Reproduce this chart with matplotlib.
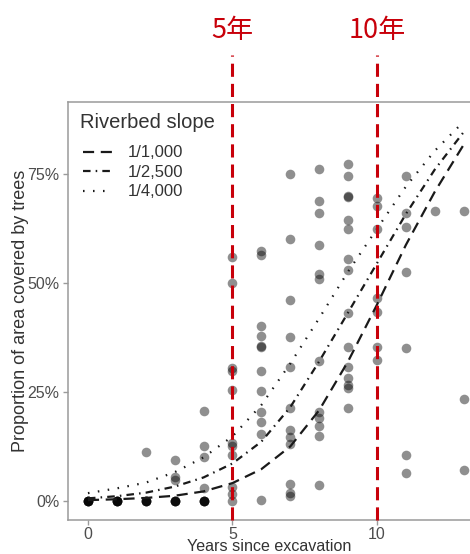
import matplotlib.pyplot as plt
from matplotlib.ticker import FuncFormatter

plt.rcParams['font.family'] = ['Liberation Sans', 'DejaVu Sans']

# observed tree cover (%) per site, grouped by years since excavation
years = list(range(14))
cover = [
    [0, 0, 0, 0, 0, 0],
    [0, 0, 0, 0, 0, 0],
    [0, 0, 0, 0, 0, 11.2],
    [0, 0, 0, 0, 0, 9.3, 5.6, 4.8],
    [0, 0, 0, 0, 0, 20.7, 12.7, 10.2, 3.0],
    [56, 50, 30.5, 29.8, 25.5, 13.4, 12.5, 10.5, 3.3, 1.5, 0],
    [57.4, 56.4, 40.1, 37.8, 35.6, 35.2, 29.8, 25.3, 20.5, 18.2, 15.4, 0.3],
    [74.9, 60.1, 46.1, 37.5, 30.7, 21.4, 16.2, 14.7, 13.1, 3.9, 1.8, 1.2],
    [76.1, 68.8, 66.1, 58.7, 52.0, 50.8, 32.2, 20.5, 19.0, 17.2, 14.8, 3.7],
    [77.2, 74.6, 70.0, 69.6, 64.4, 62.4, 55.4, 53.0, 43.2, 35.3, 30.7, 28.1,
     26.5, 26.0, 21.4],
    [69.5, 67.7, 62.3, 46.5, 43.3, 35.3, 32.3],
    [74.5, 66.1, 62.9, 52.6, 35.0, 10.5, 6.5],
    [66.4],
    [66.6, 23.3, 7.1],
]

# fitted curves (%), read at each year
fit_x = list(range(14))
fit_1000 = [0.2, 0.4, 0.7, 1.2, 2.2, 4.1, 7.3, 12.5, 20.8, 32.0, 45.0, 58.7, 70.9, 81.7]
fit_2500 = [0.6, 1.1, 1.9, 3.3, 5.4, 8.6, 13.6, 21.5, 32.0, 43.2, 54.5, 65.8, 76.0, 84.6]
fit_4000 = [1.8, 2.9, 4.2, 6.6, 10.0, 14.8, 22.0, 31.5, 41.9, 52.6, 62.4, 72.1, 80.3, 87.0]
slope_labels = ['1/1,000', '1/2,500', '1/4,000']

marks = [5, 10]
mark_labels = ['5年', '10年']

fig = plt.figure(figsize=(4.7, 5.54), dpi=100)
ax = fig.add_axes([68 / 470, 34 / 554, 1 - 68 / 470, 418 / 554])

xs, ys = [], []
for yr, vals in zip(years, cover):
    xs += [yr] * len(vals)
    ys += vals
ax.scatter(xs, ys, s=48, color='black', alpha=0.44, linewidths=0, zorder=2)

lc = '#1a1a1a'
ax.plot(fit_x, fit_1000, color=lc, lw=1.6, ls=(0, (5, 3)), label=slope_labels[0], zorder=3)
ax.plot(fit_x, fit_2500, color=lc, lw=1.6, ls=(0, (3.4, 2.3, 0.7, 2.3)), label=slope_labels[1], zorder=3)
ax.plot(fit_x, fit_4000, color=lc, lw=1.6, ls=(0, (0.7, 3.8)), label=slope_labels[2], zorder=3)

# red markers for 5 and 10 years
red = '#c8000a'
for m, lab in zip(marks, mark_labels):
    ax.plot([m, m], [0, 1.112], transform=ax.get_xaxis_transform(), clip_on=False,
            color=red, lw=2.2, ls=(0, (4.3, 2.3)), zorder=5)
    ax.text(m, 1.172, lab, transform=ax.get_xaxis_transform(), ha='center', va='center',
            color=red, fontsize=19.5, family=['Noto Sans CJK JP', 'DejaVu Sans'])

ax.set_xlim(-0.69, 13.22)
ax.set_ylim(-4.36, 91.5)
ax.set_xticks([0, 5, 10])
ax.set_yticks([0, 25, 50, 75])
ax.yaxis.set_major_formatter(FuncFormatter(lambda v, p: '%d%%' % v))

for side in ['top', 'left', 'bottom']:
    ax.spines[side].set_color('#9a9a9a')
    ax.spines[side].set_linewidth(1.1)
ax.spines['right'].set_visible(False)
ax.tick_params(colors='#9a9a9a', labelcolor='#4d4d4d', labelsize=11.5, length=3.5, width=1, pad=2.5)
ax.tick_params(axis='x', pad=1.2)

ax.set_xlabel('Years since excavation', fontsize=11.6, color='#333333', labelpad=-2)
ax.set_ylabel('Proportion of area covered by trees', fontsize=13, color='#333333', labelpad=-1)

ax.text(0.03, 0.952, 'Riverbed slope', transform=ax.transAxes, ha='left', va='center',
        fontsize=14.5, color='#333333')
leg = ax.legend(loc='upper left', bbox_to_anchor=(0.037, 0.896), borderaxespad=0,
                frameon=False, borderpad=0, fontsize=12,
                handlelength=1.8, handletextpad=0.9, labelspacing=0.27)
for t in leg.get_texts():
    t.set_color('#333333')

fig.savefig('out.png', dpi=100)
